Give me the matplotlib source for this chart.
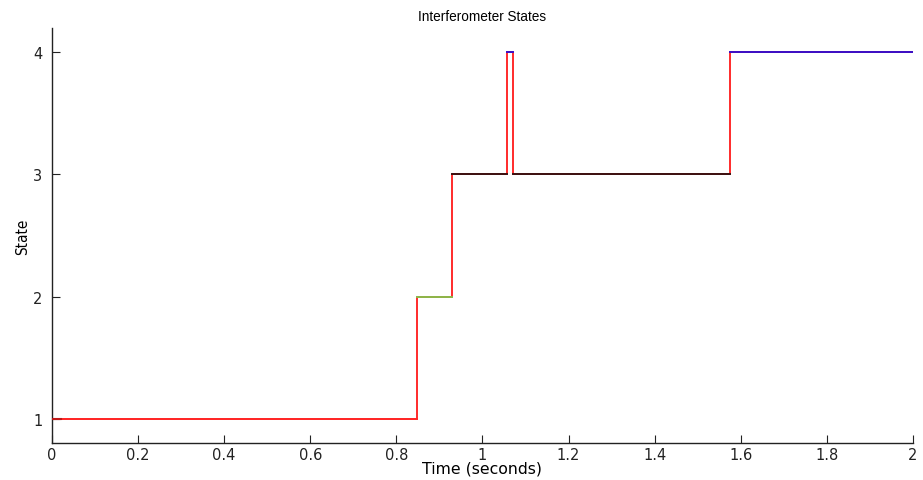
import numpy as np
import matplotlib.pyplot as plt

# state changes (seconds) and the state held after each one
switch_times = [0.0, 0.847, 0.9285, 1.0576, 1.0701, 1.575]
states = [1, 2, 3, 4, 3, 4]
t_end = 2.0

# colour used for the level of each state
state_colors = {1: "#ff2828", 2: "#8cb84a", 3: "#3a1212", 4: "#3a10c8"}
lead_in_end = 0.02  # short darker stretch at the start of state 1

plt.rcParams['font.family'] = ['DejaVu Sans']

fig = plt.figure(figsize=(9.23, 4.81), dpi=100)
ax = fig.add_axes([0.0563, 0.0769, 0.9329, 0.8628])

# full step trace
tt = list(switch_times) + [t_end]
ss = list(states) + [states[-1]]
ax.step(tt, ss, where='post', color='#ff1a1a', lw=1.3, zorder=2)

# level of each state drawn over the trace
for i, s in enumerate(states):
    t0 = switch_times[i]
    t1 = switch_times[i + 1] if i + 1 < len(switch_times) else t_end
    ax.plot([t0, t1], [s, s], color=state_colors[s], lw=1.4, zorder=3)
ax.plot([0, lead_in_end], [1, 1], color='#c01818', lw=1.5, zorder=4)

ax.set_xlim(0, 2)
ax.set_ylim(0.8, 4.2)
ax.set_xticks(np.arange(0, 2.01, 0.2))
ax.set_xticklabels(['0', '0.2', '0.4', '0.6', '0.8', '1', '1.2', '1.4', '1.6', '1.8', '2'])
ax.set_yticks([1, 2, 3, 4])

for side in ['top', 'right']:
    ax.spines[side].set_visible(False)
for side in ['left', 'bottom']:
    ax.spines[side].set_linewidth(1.0)
    ax.spines[side].set_color('#222222')

ax.tick_params(direction='in', length=6, width=0.8, labelsize=10.5, pad=3, colors='#222222')
ax.tick_params(axis='y', pad=7)

ax.set_title('Interferometer States', fontsize=9.8, pad=6, family='Liberation Sans')
ax.set_xlabel('Time (seconds)', fontsize=11.3, labelpad=-1)
ax.set_ylabel('State', fontsize=11, labelpad=2,
              family=['Liberation Sans Narrow', 'DejaVu Sans'], fontstretch='condensed')

fig.savefig('out.png', dpi=100)
